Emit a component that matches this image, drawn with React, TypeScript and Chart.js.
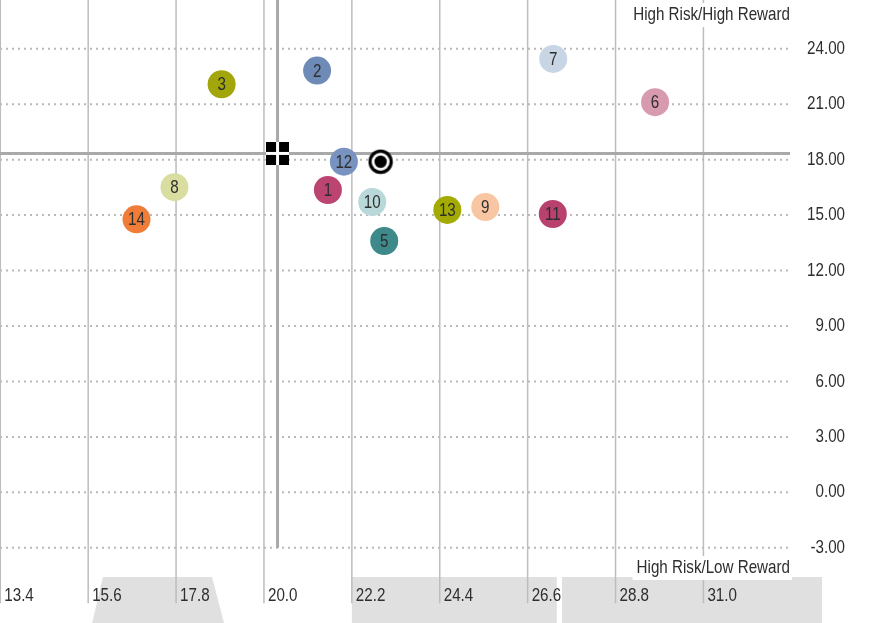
import { useEffect, useRef } from 'react';
import { Chart, registerables } from 'chart.js';

Chart.register(...registerables);

// ---------- data ----------
const xTickValues = [13.4, 15.6, 17.8, 20.0, 22.2, 24.4, 26.6, 28.8, 31.0];
const yTickValues = [27, 24, 21, 18, 15, 12, 9, 6, 3, 0, -3];

const fundLabels = ['1', '2', '3', '5', '6', '7', '8', '9', '10', '11', '12', '13', '14'];
const fundRisk = [21.6, 21.33, 18.94, 23.01, 29.79, 27.24, 17.76, 25.54, 22.71, 27.23, 22.0, 24.59, 16.81];
const fundReward = [16.36, 22.82, 22.08, 13.6, 21.11, 23.45, 16.51, 15.44, 15.71, 15.06, 17.89, 15.28, 14.77];
const fundColors = [
  '#bb4470', '#6d8bb6', '#a2a60a', '#3e8a8a', '#d89aae', '#c7d5e5', '#d9dea0',
  '#f8c6a2', '#b9d8d9', '#b8416d', '#7893c0', '#a3ab03', '#ef7d38',
];

const categoryAverage = { risk: 20.34, reward: 18.34 };
const benchmark = { risk: 22.92, reward: 17.89 };

const quadrantLabels = ['High Risk/High Reward', 'High Risk/Low Reward'];

// grey panels along the bottom (x ranges in risk units)
const panelTopLeft = [15.97, 22.2, 27.46];
const panelTopRight = [18.7, 27.33, 33.97];
const panelBottomLeft = [15.7, 22.2, 27.46];
const panelBottomRight = [19.0, 27.33, 33.97];
const panelTopValue = -4.58;

const X_MIN = 13.393;
const X_MAX = 35.62;
const Y_MIN = -7.07;
const Y_MAX = 26.64;

const FONT = '18.5px "Liberation Sans", Arial, sans-serif';
const SQUEEZE = 0.82;
const TEXT = '#2e2e2e';

function narrowText(ctx: CanvasRenderingContext2D, text: string, x: number, y: number, align: CanvasTextAlign) {
  ctx.save();
  ctx.translate(x, y);
  ctx.scale(SQUEEZE, 1);
  ctx.font = FONT;
  ctx.textAlign = align;
  ctx.textBaseline = 'middle';
  ctx.fillStyle = TEXT;
  ctx.fillText(text, 0, 0);
  ctx.restore();
}

function narrowWidth(ctx: CanvasRenderingContext2D, text: string) {
  ctx.save();
  ctx.font = FONT;
  const w = ctx.measureText(text).width * SQUEEZE;
  ctx.restore();
  return w;
}

function makeSquareMarker() {
  const c = document.createElement('canvas');
  c.width = 23;
  c.height = 23;
  const g = c.getContext('2d')!;
  g.fillStyle = '#ffffff';
  g.fillRect(0, 0, 23, 23);
  g.fillStyle = '#000000';
  g.fillRect(0, 0, 10, 10);
  g.fillRect(13, 0, 10, 10);
  g.fillRect(0, 13, 10, 10);
  g.fillRect(13, 13, 10, 10);
  return c;
}

function makeTargetMarker() {
  const c = document.createElement('canvas');
  c.width = 26;
  c.height = 26;
  const g = c.getContext('2d')!;
  const circ = (r: number, col: string) => {
    g.beginPath();
    g.arc(13, 13, r, 0, Math.PI * 2);
    g.fillStyle = col;
    g.fill();
  };
  circ(12.2, '#000000');
  circ(9.0, '#ffffff');
  circ(6.2, '#000000');
  return c;
}

const backgroundPlugin = {
  id: 'riskRewardBackground',
  beforeDatasetsDraw(chart: any) {
    const { ctx, chartArea } = chart;
    const xs = chart.scales.x;
    const ys = chart.scales.y;
    const gridRight = 790;
    ctx.save();

    // grey panels
    ctx.fillStyle = '#e0e0e0';
    for (let i = 0; i < panelTopLeft.length; i++) {
      ctx.beginPath();
      ctx.moveTo(xs.getPixelForValue(panelTopLeft[i]), ys.getPixelForValue(panelTopValue));
      ctx.lineTo(xs.getPixelForValue(panelTopRight[i]), ys.getPixelForValue(panelTopValue));
      ctx.lineTo(xs.getPixelForValue(panelBottomRight[i]), chartArea.bottom);
      ctx.lineTo(xs.getPixelForValue(panelBottomLeft[i]), chartArea.bottom);
      ctx.closePath();
      ctx.fill();
    }

    // dotted horizontal gridlines
    ctx.setLineDash([2, 4]);
    ctx.lineWidth = 2;
    ctx.strokeStyle = '#b9b9b9';
    for (const v of yTickValues) {
      const py = ys.getPixelForValue(v);
      ctx.beginPath();
      ctx.moveTo(0, py);
      ctx.lineTo(gridRight, py);
      ctx.stroke();
    }
    ctx.setLineDash([]);

    // vertical gridlines
    ctx.lineWidth = 1.5;
    ctx.strokeStyle = '#bdbdbd';
    const gridBottom = ys.getPixelForValue(-6);
    for (const v of xTickValues) {
      const px = xs.getPixelForValue(v);
      ctx.beginPath();
      ctx.moveTo(px, 0);
      ctx.lineTo(px, gridBottom);
      ctx.stroke();
    }

    // category average cross lines
    ctx.lineWidth = 3;
    ctx.strokeStyle = '#a9a9ab';
    const ax = xs.getPixelForValue(categoryAverage.risk);
    const ay = ys.getPixelForValue(categoryAverage.reward);
    ctx.beginPath();
    ctx.moveTo(ax, 0);
    ctx.lineTo(ax, ys.getPixelForValue(-3));
    ctx.stroke();
    ctx.beginPath();
    ctx.moveTo(0, ay);
    ctx.lineTo(gridRight, ay);
    ctx.stroke();

    // quadrant labels on white
    const labelY = [15, 568];
    quadrantLabels.forEach((t, i) => {
      const w = narrowWidth(ctx, t);
      ctx.fillStyle = '#ffffff';
      ctx.fillRect(gridRight - w - 4, labelY[i] - 12, w + 6, 24);
      narrowText(ctx, t, gridRight, labelY[i], 'right');
    });

    // y tick labels
    for (const v of yTickValues) {
      narrowText(ctx, v.toFixed(2), 845, ys.getPixelForValue(v), 'right');
    }
    // x tick labels
    const xLabelY = ys.getPixelForValue(-5.6);
    for (const v of xTickValues) {
      narrowText(ctx, v.toFixed(1), xs.getPixelForValue(v) + 4, xLabelY, 'left');
    }
    ctx.restore();
  },
  afterDatasetsDraw(chart: any) {
    const { ctx } = chart;
    const meta = chart.getDatasetMeta(0);
    ctx.save();
    meta.data.forEach((el: any, i: number) => {
      narrowText(ctx, fundLabels[i], el.x, el.y + 1, 'center');
    });
    ctx.restore();
  },
};

export default function App() {
  const ref = useRef<HTMLCanvasElement | null>(null);
  useEffect(() => {
    if (!ref.current) return;
    const chart = new Chart(ref.current, {
      type: 'scatter',
      data: {
        datasets: [
          {
            label: 'Funds',
            data: fundRisk.map((r, i) => ({ x: r, y: fundReward[i] })),
            backgroundColor: fundColors,
            borderWidth: 0,
            pointRadius: 14,
            pointHoverRadius: 14,
            order: 1,
          },
          {
            label: 'Category Average',
            data: [{ x: categoryAverage.risk, y: categoryAverage.reward }],
            pointStyle: makeSquareMarker() as any,
            order: 2,
          },
          {
            label: 'Benchmark',
            data: [{ x: benchmark.risk, y: benchmark.reward }],
            pointStyle: makeTargetMarker() as any,
            order: 3,
          },
        ],
      },
      options: {
        responsive: false,
        animation: false,
        events: [],
        layout: { padding: 0, autoPadding: false },
        plugins: { legend: { display: false }, tooltip: { enabled: false } },
        scales: {
          x: { type: 'linear', min: X_MIN, max: X_MAX, display: false },
          y: { type: 'linear', min: Y_MIN, max: Y_MAX, display: false },
        },
      },
      plugins: [backgroundPlugin],
    });
    return () => chart.destroy();
  }, []);
  return (
    <div style={{ position: 'absolute', left: 0, top: 0, width: 888, height: 623, background: '#fff' }}>
      <canvas ref={ref} width={888} height={623} style={{ display: 'block' }} />
    </div>
  );
}
